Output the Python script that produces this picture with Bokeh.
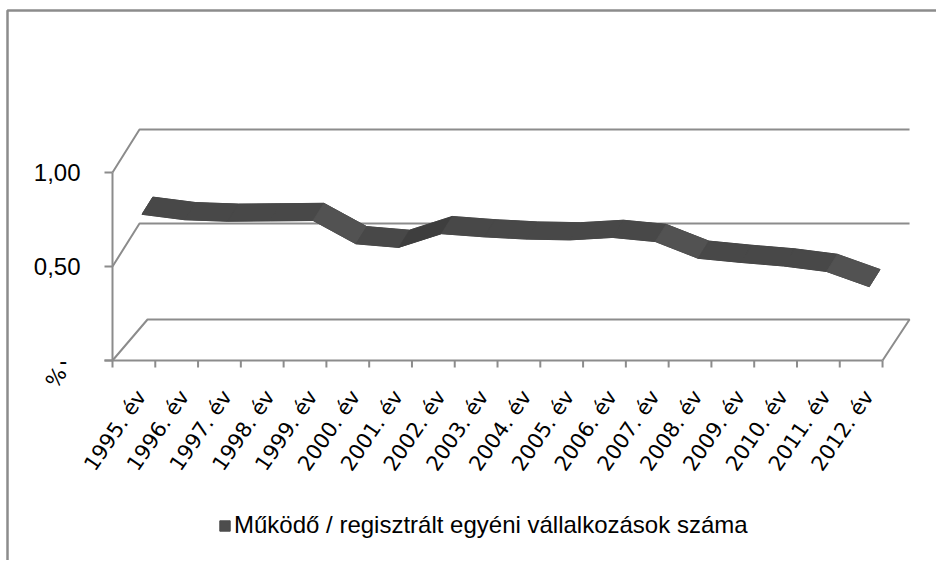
import math
from bokeh.plotting import figure
from bokeh.models import Range1d, Legend, LegendItem
from bokeh.core.properties import value
from bokeh.embed import file_html
from bokeh.resources import INLINE

# ---------------- data ----------------
categories = ["1995. év", "1996. év", "1997. év", "1998. év", "1999. év", "2000. év",
              "2001. év", "2002. év", "2003. év", "2004. év", "2005. év", "2006. év",
              "2007. év", "2008. év", "2009. év", "2010. év", "2011. év", "2012. év"]
values = [0.709, 0.680, 0.672, 0.674, 0.676, 0.552, 0.533, 0.606, 0.589,
          0.577, 0.573, 0.586, 0.564, 0.475, 0.453, 0.434, 0.405, 0.324]
series_name = "Működő / regisztrált egyéni vállalkozások száma"
y_ticks = [0.0, 0.5, 1.0]
y_tick_labels = ["-\u00a0\u00a0", "0,50", "1,00"]
y_unit_label = "%"

# ---------------- layout / projection constants ----------------
W, H = 936, 560
PX_PER_CAT = 42.78          # pixels per category step
PX_PER_VAL = 188.0          # pixels per 1.0 of value
ORIGIN_X, ORIGIN_Y = 112, 360   # pixel position of the (category 0, value 0) corner
DEPTH_U = 27 / PX_PER_CAT
DEPTH_V = 43 / PX_PER_VAL
FLOOR_U = 35 / PX_PER_CAT
FLOOR_V = 41 / PX_PER_VAL
FRONT, BACK = 0.3, 0.7
GRID = "#8c8c8c"
LABEL_ANGLE = math.radians(55.5)


def du(px):
    return px / PX_PER_CAT


def dv(px):
    return px / PX_PER_VAL


x_start = -du(ORIGIN_X)
y_start = -dv(H - ORIGIN_Y)
p = figure(width=W, height=H,
           x_range=Range1d(x_start, x_start + du(W)),
           y_range=Range1d(y_start, y_start + dv(H)),
           output_backend="svg", toolbar_location=None,
           x_axis_location=None, y_axis_location=None,
           min_border=0, min_border_left=0, min_border_right=0,
           min_border_top=0, min_border_bottom=0)
p.outline_line_color = None
p.xgrid.visible = False
p.ygrid.visible = False
p.background_fill_color = "white"
p.border_fill_color = "white"

n = len(categories)

# chart-area border (left and top edges visible)
bl_u = x_start + du(7)
bt_v = y_start + dv(H) - dv(10)
p.line([bl_u, bl_u, x_start + du(W)], [y_start, bt_v, bt_v], line_color=GRID, line_width=2.5)

# walls / gridlines
for v in y_ticks[1:]:
    p.line([0, DEPTH_U, n + DEPTH_U], [v, v + DEPTH_V, v + DEPTH_V], line_color=GRID, line_width=2)
# floor
p.line([0, FLOOR_U, n + DEPTH_U, n], [0, FLOOR_V, FLOOR_V, 0], line_color=GRID, line_width=2)
# front category axis line and value axis line
p.line([-du(8), n], [0, 0], line_color=GRID, line_width=2)
p.line([0, 0], [0, max(y_ticks)], line_color=GRID, line_width=2)

# value-axis tick marks and labels
p.segment(x0=[-du(8)] * len(y_ticks), y0=y_ticks, x1=[0] * len(y_ticks), y1=y_ticks,
          line_color=GRID, line_width=2)
p.text(x=[-du(32)] * len(y_ticks), y=y_ticks, text=y_tick_labels,
       text_align="right", text_baseline="middle",
       text_font=value("Liberation Sans"), text_font_size="24px", text_color="black")

# category-axis tick marks and labels
bounds = list(range(n + 1))
p.segment(x0=bounds, y0=[0] * len(bounds), x1=bounds, y1=[-dv(7)] * len(bounds),
          line_color=GRID, line_width=2)
cx = [i + 0.5 for i in range(n)]
p.text(x=[c + du(7.5) for c in cx], y=[-dv(32)] * n, text=categories,
       angle=LABEL_ANGLE, text_align="right", text_baseline="middle",
       text_font=value("DejaVu Sans"), text_font_size="21px", text_color="black")

# unit label
p.text(x=[-du(56)], y=[-dv(17)], text=[y_unit_label], angle=LABEL_ANGLE,
       text_align="center", text_baseline="middle",
       text_font=value("DejaVu Sans"), text_font_size="21px", text_color="black")

# ribbon (3D line)
fx = [c + FRONT * DEPTH_U for c in cx]
fy = [v + FRONT * DEPTH_V for v in values]
bx = [c + BACK * DEPTH_U for c in cx]
by = [v + BACK * DEPTH_V for v in values]
ribbon = p.patch(fx + bx[::-1], fy + by[::-1], fill_color="#4d4d4d",
                 line_color="#4a4a4a", line_width=1)

seg_xs, seg_ys, seg_cols = [], [], []
for i in range(n - 1):
    seg_xs.append([fx[i], fx[i + 1], bx[i + 1], bx[i]])
    seg_ys.append([fy[i], fy[i + 1], by[i + 1], by[i]])
    d = values[i + 1] - values[i]
    seg_cols.append("#525252" if d < -0.03 else ("#3e3e3e" if d > 0.03 else "#484848"))
p.patches(seg_xs, seg_ys, fill_color=seg_cols, line_color=seg_cols, line_width=0.6)

legend = Legend(items=[LegendItem(label=series_name, renderers=[ribbon])],
                location=(218, 21), orientation="horizontal",
                padding=0, margin=0, border_line_color=None, background_fill_alpha=0,
                glyph_width=13, glyph_height=13, label_standoff=3, label_height=24,
                label_text_font="Liberation Sans", label_text_font_size="24px",
                label_text_color="black")
p.add_layout(legend, "center")

open("out.html", "w").write(file_html(p, INLINE))
